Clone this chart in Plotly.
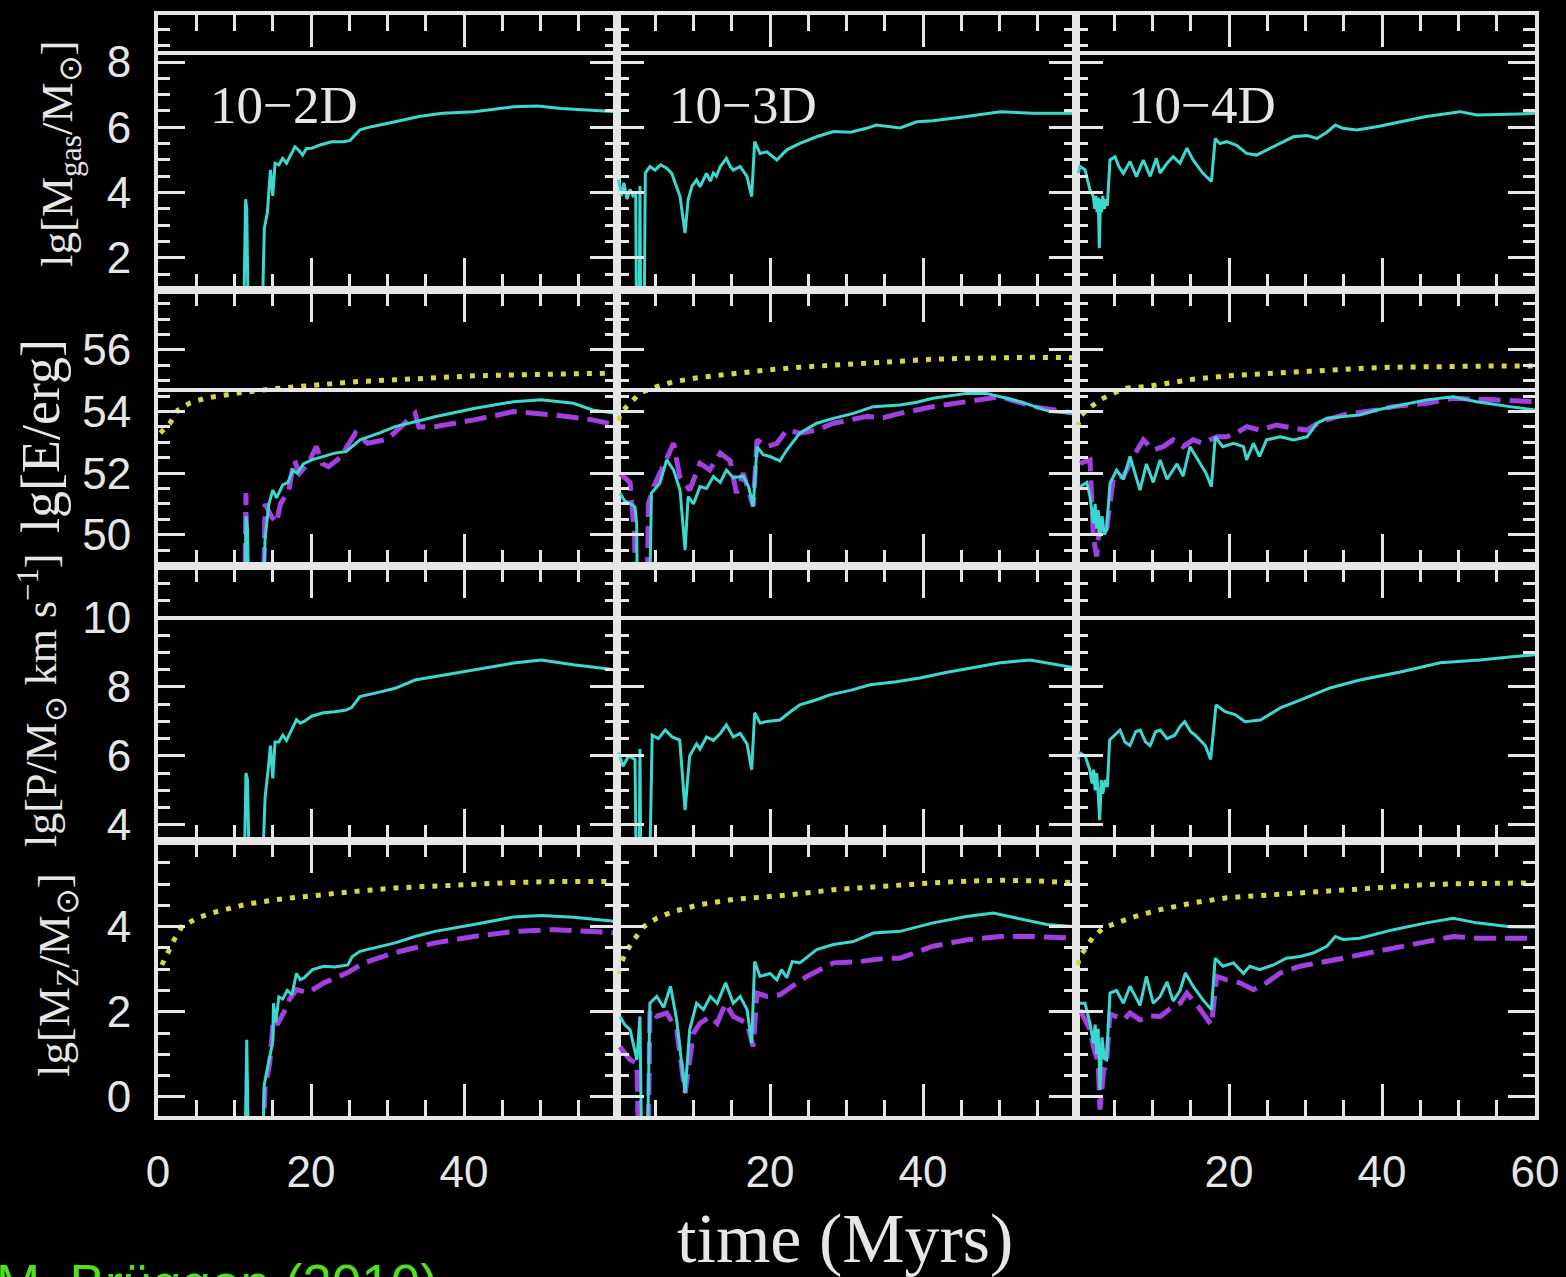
import plotly.graph_objects as go
from plotly.subplots import make_subplots

# ---------------------------------------------------------------------------
# Time series, (time [Myr], log10 value) pairs, one list per panel and curve
# ---------------------------------------------------------------------------
# Row 1: lg[M_gas / M_sun]
MGAS_2D = [(11.2, 0.0), (11.45, 3.8), (11.6, 3.5), (11.8, 0.0), (13.6, 0.0), (13.9, 2.9), (14.3, 3.4),
           (14.7, 4.7), (15.0, 3.9), (15.3, 4.9), (15.8, 4.85), (16.3, 5.05), (16.8, 4.9), (17.4, 5.15),
           (17.9, 5.4), (18.4, 5.3), (18.9, 5.15), (19.4, 5.35), (20.1, 5.36), (21.2, 5.46), (22.7, 5.56),
           (24.3, 5.56), (25.1, 5.6), (26.4, 5.92), (27.9, 6.02), (31.0, 6.17), (34.1, 6.33), (37.2, 6.43),
           (41.3, 6.48), (46.5, 6.63), (49.6, 6.65), (52.7, 6.58), (56.8, 6.53), (60.0, 6.48)]
MGAS_3D = [(0.2, 4.4), (0.6, 3.9), (0.9, 4.3), (1.3, 3.8), (1.7, 4.1), (2.1, 3.9), (2.45, 3.95), (2.55, 0.0),
           (2.9, 0.0), (3.0, 4.2), (3.1, 0.0), (3.55, 0.0), (3.7, 4.6), (4.3, 4.8), (4.97, 4.69), (5.7, 4.85),
           (6.5, 4.75), (7.15, 4.59), (8.24, 3.88), (8.89, 2.76), (9.3, 3.78), (9.8, 4.2), (10.4, 4.39),
           (10.85, 4.18), (11.7, 4.59), (12.2, 4.35), (12.6, 4.6), (13.0, 4.5), (13.5, 4.8), (14.3, 5.05),
           (14.8, 4.8), (15.2, 4.69), (16.1, 4.8), (17.0, 4.49), (17.6, 3.88), (18.0, 5.56), (18.7, 5.2),
           (19.6, 5.25), (20.9, 5.0), (22.2, 5.31), (23.9, 5.51), (26.1, 5.71), (28.3, 5.87), (30.5, 5.85),
           (32.6, 5.97), (33.9, 6.07), (37.0, 5.98), (39.2, 6.17), (41.3, 6.2), (45.7, 6.33), (50.1, 6.48),
           (54.4, 6.43), (60.0, 6.43)]
MGAS_4D = [(0.3, 4.6), (0.52, 4.8), (1.18, 4.7), (1.83, 4.08), (2.27, 3.88), (2.45, 3.5), (2.6, 3.9),
           (2.75, 3.4), (2.9, 3.85), (3.05, 2.3), (3.2, 3.8), (3.35, 3.4), (3.5, 3.9), (3.7, 3.5), (3.9, 3.8),
           (4.1, 3.6), (4.44, 5.0), (5.1, 5.1), (5.6, 4.8), (6.2, 4.59), (7.06, 4.95), (7.9, 4.49), (8.8, 5.0),
           (9.7, 4.5), (10.5, 5.05), (11.0, 4.6), (11.9, 4.9), (12.7, 5.1), (13.6, 4.9), (14.5, 5.36),
           (15.3, 5.0), (16.6, 4.59), (17.7, 4.34), (18.2, 5.66), (18.8, 5.5), (19.7, 5.56), (21.0, 5.45),
           (22.3, 5.2), (23.6, 5.15), (24.9, 5.3), (26.7, 5.51), (28.4, 5.71), (30.2, 5.75), (31.5, 5.66),
           (32.8, 5.85), (33.9, 6.07), (34.9, 5.97), (36.7, 5.92), (39.3, 6.02), (41.5, 6.12), (45.8, 6.33),
           (50.2, 6.48), (52.4, 6.38), (56.7, 6.4), (60.0, 6.43)]

# Row 2: lg[E / erg]  (solid, dashed, dotted)
E_SOLID_2D = [(11.3, 47.0), (11.5, 50.6), (11.7, 50.2), (11.9, 47.0), (13.7, 47.0), (14.0, 49.9), (14.5, 51.0),
              (15.0, 51.45), (15.5, 51.2), (16.3, 51.62), (17.0, 51.7), (17.6, 52.1), (18.2, 52.0), (19.0, 52.3),
              (20.1, 52.43), (21.6, 52.55), (23.1, 52.65), (24.6, 52.7), (25.5, 52.9), (26.4, 53.08),
              (28.9, 53.3), (31.0, 53.51), (33.6, 53.67), (36.2, 53.83), (41.3, 54.1), (46.5, 54.32),
              (50.1, 54.38), (54.3, 54.27), (56.8, 54.05), (60.0, 53.94)]
E_DASH_2D = [(11.3, 47.0), (11.5, 51.35), (11.7, 47.0), (13.7, 47.0), (14.0, 51.0), (14.8, 50.6), (15.5, 50.38),
             (16.0, 51.0), (17.1, 51.45), (17.8, 52.43), (18.5, 52.0), (19.6, 52.3), (20.7, 52.86), (21.5, 52.3),
             (22.3, 52.21), (23.8, 52.5), (25.8, 53.3), (27.4, 52.97), (30.0, 53.1), (33.6, 53.94), (34.1, 53.5),
             (36.2, 53.51), (41.3, 53.73), (46.5, 54.0), (51.7, 53.89), (56.8, 53.73), (60.0, 53.56)]
E_DOT_2D = [(0.3, 53.3), (1.5, 53.6), (2.6, 54.05), (4.1, 54.27), (6.2, 54.44), (10.4, 54.6), (15.5, 54.75),
            (20.7, 54.86), (25.8, 54.97), (31.0, 55.03), (36.2, 55.1), (41.3, 55.16), (46.5, 55.19),
            (51.7, 55.22), (56.8, 55.24), (60.0, 55.25)]

E_SOLID_3D = [(0.4, 51.35), (1.0, 51.1), (1.7, 51.02), (2.35, 50.9), (2.57, 50.37), (2.7, 47.0), (4.2, 47.0),
              (4.5, 51.35), (5.6, 51.67), (6.5, 52.43), (7.4, 52.1), (8.24, 51.45), (8.9, 49.5), (9.3, 51.24),
              (10.0, 51.0), (10.85, 51.56), (11.7, 51.5), (12.6, 51.89), (13.5, 51.7), (14.3, 52.1), (15.2, 51.85),
              (16.5, 51.9), (17.2, 51.56), (17.8, 50.92), (18.3, 52.86), (19.1, 52.6), (20.0, 52.54), (21.3, 52.4),
              (22.2, 52.75), (23.9, 53.3), (26.1, 53.62), (28.3, 53.78), (30.9, 53.94), (33.5, 54.16),
              (37.0, 54.21), (39.2, 54.3), (41.3, 54.43), (43.5, 54.5), (45.7, 54.59), (48.3, 54.59),
              (50.1, 54.48), (52.7, 54.32), (56.6, 54.0), (60.0, 53.94)]
E_DASH_3D = [(0.4, 51.99), (1.7, 51.7), (2.3, 49.94), (2.5, 47.0), (3.9, 47.0), (4.1, 51.0), (4.8, 51.56),
             (6.5, 52.54), (7.4, 52.97), (8.2, 51.89), (9.5, 51.45), (10.85, 52.32), (12.1, 52.1), (13.5, 52.65),
             (14.8, 52.4), (15.6, 51.35), (16.5, 52.0), (17.8, 50.92), (18.3, 53.08), (19.6, 52.86), (20.9, 52.97),
             (22.2, 53.4), (23.9, 53.3), (26.1, 53.4), (28.3, 53.62), (32.6, 53.84), (34.8, 53.8), (37.0, 53.94),
             (41.3, 54.16), (45.7, 54.32), (50.1, 54.48), (54.4, 54.16), (60.0, 53.94)]
E_DOT_3D = [(0.2, 53.7), (0.4, 53.94), (1.7, 54.27), (3.0, 54.6), (5.2, 54.81), (7.4, 54.97), (10.85, 55.11),
            (15.2, 55.24), (19.6, 55.35), (23.9, 55.44), (28.3, 55.51), (32.6, 55.59), (37.0, 55.65),
            (41.3, 55.7), (45.7, 55.73), (50.1, 55.75), (54.4, 55.76), (60.0, 55.75)]

E_SOLID_4D = [(0.52, 51.56), (1.4, 51.7), (1.83, 51.24), (2.27, 50.37), (2.5, 51.0), (2.7, 50.2), (2.9, 50.8),
              (3.14, 49.94), (3.4, 50.6), (3.7, 50.0), (4.0, 50.16), (4.44, 51.67), (5.3, 52.1), (6.2, 51.8),
              (7.06, 52.54), (8.37, 51.45), (9.2, 52.3), (10.1, 51.7), (11.0, 52.43), (11.9, 51.8), (13.2, 52.3),
              (14.0, 51.9), (14.9, 52.86), (16.2, 52.32), (17.0, 52.0), (17.7, 51.56), (18.2, 53.18),
              (19.2, 52.86), (20.6, 52.97), (21.9, 52.86), (22.3, 52.43), (23.2, 52.97), (24.0, 52.54),
              (24.9, 53.08), (26.7, 53.18), (28.4, 53.08), (30.2, 53.18), (31.5, 53.62), (32.8, 53.78),
              (34.9, 53.84), (37.1, 53.89), (39.3, 54.05), (41.5, 54.16), (45.8, 54.38), (49.3, 54.48),
              (52.4, 54.32), (56.7, 54.16), (60.0, 54.05)]
E_DASH_4D = [(0.52, 52.32), (1.83, 52.43), (2.27, 49.94), (2.7, 49.29), (3.14, 50.5), (4.0, 50.16), (4.9, 51.89),
             (6.2, 51.89), (7.5, 52.54), (8.8, 53.08), (10.1, 52.75), (11.4, 52.86), (12.7, 53.08), (14.0, 52.86),
             (15.3, 53.08), (16.6, 52.97), (18.4, 53.18), (19.7, 53.18), (21.0, 53.3), (22.3, 53.51), (24.0, 53.4),
             (26.2, 53.56), (28.4, 53.46), (30.2, 53.4), (31.9, 53.67), (34.9, 53.89), (39.3, 54.05),
             (41.5, 54.16), (45.8, 54.27), (49.3, 54.43), (54.6, 54.38), (60.0, 54.32)]
E_DOT_4D = [(0.2, 53.5), (0.52, 53.84), (1.4, 54.05), (3.14, 54.38), (4.9, 54.6), (6.6, 54.76), (9.2, 54.81),
            (12.3, 54.92), (15.3, 55.05), (19.7, 55.16), (24.0, 55.22), (28.4, 55.3), (32.8, 55.35),
            (37.1, 55.4), (41.5, 55.44), (45.8, 55.46), (50.2, 55.48), (54.6, 55.48), (60.0, 55.48)]

# Row 3: lg[P / (M_sun km/s)]
P_2D = [(11.3, 3.0), (11.5, 5.5), (11.7, 5.3), (11.9, 3.0), (13.7, 3.0), (14.0, 4.8), (14.4, 5.6), (14.7, 6.3),
        (15.0, 5.35), (15.3, 6.4), (15.8, 6.4), (16.3, 6.6), (16.8, 6.45), (17.4, 6.75), (18.1, 7.05),
        (18.6, 6.95), (19.1, 7.0), (20.1, 7.15), (21.6, 7.25), (23.1, 7.28), (24.6, 7.33), (25.3, 7.4),
        (26.4, 7.72), (28.4, 7.82), (31.0, 7.96), (33.6, 8.2), (36.2, 8.3), (41.3, 8.49), (46.5, 8.69),
        (50.1, 8.78), (54.3, 8.64), (60.0, 8.49)]
P_3D = [(0.2, 6.1), (0.8, 5.7), (1.5, 6.0), (2.35, 5.9), (2.5, 3.0), (2.9, 3.0), (3.0, 6.2), (3.1, 3.0),
        (4.3, 3.0), (4.6, 6.6), (5.4, 6.5), (6.3, 6.75), (7.2, 6.55), (8.2, 6.46), (8.9, 4.43), (9.5, 6.0),
        (10.4, 6.35), (10.85, 6.2), (11.7, 6.55), (12.6, 6.45), (13.5, 6.65), (14.3, 6.9), (15.2, 6.55),
        (16.1, 6.65), (17.0, 6.35), (17.6, 5.6), (18.0, 7.25), (18.7, 6.95), (19.6, 7.0), (21.3, 7.04),
        (22.5, 7.25), (23.9, 7.48), (26.0, 7.62), (27.8, 7.77), (30.5, 7.9), (33.1, 8.06), (36.5, 8.15),
        (39.6, 8.26), (43.0, 8.42), (46.1, 8.55), (50.1, 8.7), (54.0, 8.78), (57.9, 8.64), (60.0, 8.55)]
P_4D = [(0.3, 5.9), (0.5, 6.09), (1.2, 6.0), (1.8, 5.6), (2.1, 5.2), (2.3, 5.6), (2.5, 5.0), (2.7, 5.5),
        (2.9, 4.9), (3.1, 4.14), (3.3, 5.3), (3.5, 4.9), (3.8, 5.3), (4.1, 5.1), (4.4, 6.46), (5.1, 6.6),
        (5.75, 6.75), (6.4, 6.4), (7.06, 6.3), (7.8, 6.7), (8.4, 6.75), (9.1, 6.4), (9.7, 6.3), (10.4, 6.7),
        (11.0, 6.75), (11.9, 6.5), (12.9, 6.6), (13.6, 6.85), (14.2, 6.99), (15.0, 6.7), (15.6, 6.6),
        (16.9, 6.3), (17.6, 5.9), (18.3, 7.48), (19.5, 7.28), (20.8, 7.2), (22.1, 6.99), (24.1, 7.04),
        (26.7, 7.39), (29.3, 7.62), (31.2, 7.8), (33.2, 7.97), (37.1, 8.2), (42.4, 8.43), (47.6, 8.7),
        (52.8, 8.78), (56.7, 8.87), (60.0, 8.93)]

# Row 4: lg[M_Z / M_sun]  (solid, dashed, dotted)
MZ_SOLID_2D = [(11.4, -1.0), (11.6, 1.34), (11.8, -1.0), (13.7, -1.0), (13.9, 0.3), (14.5, 0.85), (15.0, 1.3),
               (15.1, 2.2), (15.4, 1.75), (15.8, 2.35), (16.3, 2.3), (16.9, 2.5), (17.5, 2.4), (18.1, 2.9),
               (18.6, 2.75), (19.1, 2.8), (20.2, 2.99), (21.7, 3.07), (23.1, 3.05), (24.8, 3.1), (25.4, 3.3),
               (26.4, 3.42), (28.4, 3.5), (31.0, 3.62), (33.6, 3.77), (36.2, 3.89), (41.3, 4.05), (46.5, 4.23),
               (50.1, 4.26), (54.3, 4.22), (60.0, 4.12)]
MZ_DASH_2D = [(13.7, -1.0), (14.0, 0.2), (14.6, 0.8), (15.1, 1.85), (15.6, 1.7), (16.5, 2.0), (17.2, 2.3),
              (18.1, 2.52), (19.6, 2.45), (21.7, 2.68), (24.8, 2.92), (26.9, 3.15), (31.0, 3.39), (36.2, 3.62),
              (41.3, 3.77), (46.5, 3.89), (51.7, 3.93), (56.8, 3.9), (60.0, 3.86)]
MZ_DOT_2D = [(0.5, 3.1), (1.0, 3.3), (2.1, 3.69), (3.1, 4.0), (5.2, 4.21), (7.8, 4.36), (11.4, 4.52),
             (15.5, 4.64), (20.7, 4.75), (25.8, 4.83), (31.0, 4.91), (36.2, 4.96), (41.3, 5.0), (46.5, 5.04),
             (51.7, 5.06), (60.0, 5.06)]

MZ_SOLID_3D = [(0.4, 1.89), (1.0, 1.7), (1.7, 1.58), (2.2, 1.2), (2.6, 0.87), (3.0, 1.89), (3.2, -1.0),
               (4.0, -1.0), (4.3, 2.2), (5.2, 2.36), (6.1, 2.1), (7.0, 2.6), (7.8, 1.81), (8.9, 0.09), (9.5, 1.58),
               (10.4, 2.2), (11.3, 2.05), (12.2, 2.36), (13.1, 2.2), (14.2, 2.68), (15.2, 2.2), (16.1, 2.36),
               (17.0, 2.05), (17.6, 1.26), (18.0, 3.18), (18.7, 2.83), (20.0, 2.9), (20.9, 2.75), (21.5, 2.99),
               (22.2, 2.8), (22.9, 3.18), (23.9, 3.15), (26.1, 3.46), (28.3, 3.58), (30.9, 3.65), (33.5, 3.85),
               (37.0, 3.89), (41.3, 4.09), (45.7, 4.24), (49.2, 4.32), (52.2, 4.2), (56.2, 4.05), (60.0, 4.0)]
MZ_DASH_3D = [(0.4, 1.18), (1.7, 0.87), (2.6, 0.8), (2.8, -1.0), (4.1, -1.0), (4.3, 2.05), (5.2, 1.89),
              (6.5, 1.97), (7.8, 1.58), (8.9, 0.09), (10.0, 1.5), (10.85, 1.73), (12.2, 1.89), (13.1, 1.73),
              (14.2, 2.2), (15.2, 1.89), (17.0, 1.73), (17.8, 1.18), (18.3, 2.44), (19.6, 2.36), (21.3, 2.4),
              (23.0, 2.6), (24.8, 2.83), (28.3, 3.15), (31.7, 3.18), (35.2, 3.26), (37.0, 3.26), (41.3, 3.54),
              (45.7, 3.69), (50.1, 3.77), (54.4, 3.77), (60.0, 3.73)]
MZ_DOT_3D = [(0.2, 2.9), (0.4, 3.07), (1.1, 3.38), (2.2, 3.69), (3.5, 4.0), (5.2, 4.2), (7.4, 4.36),
             (10.85, 4.52), (15.2, 4.64), (19.6, 4.71), (22.7, 4.75), (28.3, 4.87), (32.6, 4.93), (37.0, 4.99),
             (41.3, 5.03), (45.7, 5.07), (50.1, 5.09), (54.4, 5.08), (60.0, 5.03)]

MZ_SOLID_4D = [(0.52, 2.2), (1.18, 2.2), (1.83, 1.73), (2.27, 1.26), (2.5, 1.7), (2.7, 1.0), (2.9, 1.6),
               (3.14, 0.16), (3.4, 1.4), (3.7, 0.9), (4.0, 0.87), (4.44, 2.44), (5.3, 2.5), (6.2, 2.2),
               (7.06, 2.6), (8.37, 2.15), (9.2, 2.83), (10.1, 2.2), (11.0, 2.36), (11.9, 2.7), (12.7, 2.25),
               (13.6, 2.5), (14.3, 2.91), (15.3, 2.6), (16.6, 2.28), (17.7, 2.05), (18.2, 3.26), (19.2, 3.07),
               (20.6, 3.15), (21.9, 2.9), (22.7, 3.07), (24.0, 2.99), (25.8, 3.1), (27.5, 3.26), (29.3, 3.3),
               (31.0, 3.38), (32.8, 3.54), (33.9, 3.77), (34.9, 3.7), (37.1, 3.73), (41.5, 3.93), (45.8, 4.09),
               (49.3, 4.2), (52.4, 4.09), (56.7, 4.0), (60.0, 3.99)]
MZ_DASH_4D = [(0.52, 2.05), (1.83, 1.58), (2.27, 1.18), (2.9, 0.8), (3.14, -0.3), (3.6, 0.6), (4.0, 0.8),
              (4.44, 1.95), (6.2, 1.81), (7.06, 1.97), (8.37, 1.81), (9.7, 1.9), (11.0, 1.89), (12.3, 2.07),
              (13.6, 2.2), (14.5, 2.44), (16.2, 2.07), (17.7, 1.69), (18.4, 2.83), (19.7, 2.75), (21.4, 2.68),
              (23.2, 2.52), (24.9, 2.68), (26.7, 2.91), (29.3, 3.07), (31.9, 3.15), (34.9, 3.26), (37.1, 3.34),
              (41.5, 3.5), (45.8, 3.65), (49.3, 3.77), (52.4, 3.73), (56.7, 3.73), (60.0, 3.73)]
MZ_DOT_4D = [(0.2, 3.1), (0.52, 3.3), (1.4, 3.54), (2.27, 3.77), (3.6, 3.97), (5.3, 4.09), (7.5, 4.23),
             (11.0, 4.4), (15.3, 4.56), (19.7, 4.68), (24.0, 4.73), (28.4, 4.79), (32.8, 4.85), (37.1, 4.91),
             (41.5, 4.95), (45.8, 4.99), (50.2, 5.01), (54.6, 5.03), (60.0, 5.03)]

# Panel / axis text
RUN_LABELS = ["10\u22122D", "10\u22123D", "10\u22124D"]
ROW_TITLES = ["lg[M<sub>gas</sub>/M<sub>\u2299</sub>]", "lg[E/erg]",
              "lg[P/M<sub>\u2299</sub> km s<sup>\u22121</sup>]", "lg[M<sub>Z</sub>/M<sub>\u2299</sub>]"]
ROW_RANGES = [[1.01, 9.44], [49.0, 57.94], [3.54, 11.52], [-0.45, 6.02]]
ROW_MAJOR_TICKS = [[2, 4, 6, 8], [50, 52, 54, 56], [4, 6, 8, 10], [0, 2, 4]]
ROW_REF_LEVELS = [8.28, 54.7, 10.0, None]
X_TICKS = [[0, 20, 40], [20, 40], [20, 40, 60]]
X_TITLE = "time (Myrs)"
CREDIT = "M. Br\u00fcggen (2010)"

SOLID = [[MGAS_2D, MGAS_3D, MGAS_4D], [E_SOLID_2D, E_SOLID_3D, E_SOLID_4D],
         [P_2D, P_3D, P_4D], [MZ_SOLID_2D, MZ_SOLID_3D, MZ_SOLID_4D]]
DASHED = [None, [E_DASH_2D, E_DASH_3D, E_DASH_4D], None, [MZ_DASH_2D, MZ_DASH_3D, MZ_DASH_4D]]
DOTTED = [None, [E_DOT_2D, E_DOT_3D, E_DOT_4D], None, [MZ_DOT_2D, MZ_DOT_3D, MZ_DOT_4D]]

# ---------------------------------------------------------------------------
# Styling and geometry
# ---------------------------------------------------------------------------
W, H = 1566, 1277
FRAME_X0, PANEL_W = 158, 459
FRAME_Y0, PANEL_H = 15, 275.25
FG = "#e6e6e6"
CYAN = "#3bd8d0"
PURPLE = "#a23fe0"
YELLOW = "#d6d64e"
SANS = "Liberation Sans"
SERIF = "Liberation Serif"


def px(x):
    return x / W


def py(y):
    return 1 - y / H


fig = make_subplots(rows=4, cols=3, horizontal_spacing=0, vertical_spacing=0)


def add_series(pairs, r, c, color, width, dash):
    t = [p[0] for p in pairs]
    v = [p[1] for p in pairs]
    fig.add_trace(go.Scatter(x=t, y=v, mode="lines", showlegend=False, hoverinfo="skip",
                             line=dict(color=color, width=width, dash=dash)), row=r, col=c)


for ri in range(4):
    for ci in range(3):
        r, c = ri + 1, ci + 1
        if DOTTED[ri]:
            add_series(DOTTED[ri][ci], r, c, YELLOW, 5, "5px,8px")
        if DASHED[ri]:
            add_series(DASHED[ri][ci], r, c, PURPLE, 5, "22px,9px")
        add_series(SOLID[ri][ci], r, c, CYAN, 3, "solid")

        x0 = FRAME_X0 + PANEL_W * ci
        y0 = FRAME_Y0 + PANEL_H * ri
        bottom = ri == 3
        fig.update_xaxes(
            row=r, col=c, domain=[px(x0), px(x0 + PANEL_W)], range=[0, 60], automargin=False,
            tickmode="array", tickvals=X_TICKS[ci] if bottom else [20, 40],
            showticklabels=bottom, ticks="inside", ticklen=32, tickwidth=3, tickcolor=FG,
            showline=True, linecolor=FG, linewidth=4, mirror="allticks",
            showgrid=False, zeroline=False, ticklabelstandoff=14,
            tickfont=dict(family=SANS, size=44, color=FG),
            minor=dict(tickmode="linear", tick0=0, dtick=5, ticks="inside", ticklen=16,
                       tickwidth=3, tickcolor=FG, showgrid=False),
        )
        fig.update_yaxes(
            row=r, col=c, domain=[py(y0 + PANEL_H), py(y0)], range=ROW_RANGES[ri], automargin=False,
            tickmode="array", tickvals=ROW_MAJOR_TICKS[ri],
            showticklabels=(ci == 0), ticks="inside", ticklen=27, tickwidth=3, tickcolor=FG,
            showline=True, linecolor=FG, linewidth=4, mirror="allticks",
            showgrid=False, zeroline=False, ticklabelstandoff=14,
            tickfont=dict(family=SANS, size=44, color=FG),
            minor=dict(tickmode="linear", tick0=0, dtick=0.5, ticks="inside", ticklen=12,
                       tickwidth=3, tickcolor=FG, showgrid=False),
        )

# Horizontal reference levels running across all three columns of a row
for ri, level in enumerate(ROW_REF_LEVELS):
    if level is None:
        continue
    idx = ri * 3 + 1
    fig.add_shape(type="line", xref="paper", x0=px(FRAME_X0), x1=px(FRAME_X0 + 3 * PANEL_W),
                  yref="y" if idx == 1 else f"y{idx}", y0=level, y1=level,
                  line=dict(color=FG, width=4), layer="above")

annotations = []
for ci, label in enumerate(RUN_LABELS):
    annotations.append(dict(text=label, x=px(FRAME_X0 + PANEL_W * ci + 50), y=py(105),
                            xref="paper", yref="paper", xanchor="left", yanchor="middle",
                            showarrow=False, font=dict(family=SERIF, size=53, color=FG)))

# (x centre, y centre, font size) of each row's rotated title
TITLE_LAYOUT = [(60, 153, 45), (41, 436, 54), (42, 700, 44), (57, 975, 45)]
for (tx, ty, fs), title in zip(TITLE_LAYOUT, ROW_TITLES):
    annotations.append(dict(text=title, x=px(tx), y=py(ty), xref="paper", yref="paper",
                            xanchor="center", yanchor="middle", textangle=-90, showarrow=False,
                            font=dict(family=SERIF, size=fs, color=FG)))

annotations.append(dict(text=X_TITLE, x=px(845), y=py(1238), xref="paper", yref="paper",
                        xanchor="center", yanchor="middle", showarrow=False,
                        font=dict(family=SERIF, size=70, color=FG)))
annotations.append(dict(text=CREDIT, x=px(-6), y=py(1283), xref="paper", yref="paper",
                        xanchor="left", yanchor="middle", showarrow=False,
                        font=dict(family=SANS, size=53, color="#52e01e")))

fig.update_layout(
    width=W, height=H, margin=dict(l=0, r=0, t=0, b=0, autoexpand=False),
    paper_bgcolor="black", plot_bgcolor="black", showlegend=False,
    annotations=annotations,
)

fig.write_html(
    "out.html",
    config={"responsive": False, "displayModeBar": False},
    post_script=("document.body.style.margin='0';"
                 "document.body.style.overflow='hidden';"
                 "document.documentElement.style.overflow='hidden';"),
)
